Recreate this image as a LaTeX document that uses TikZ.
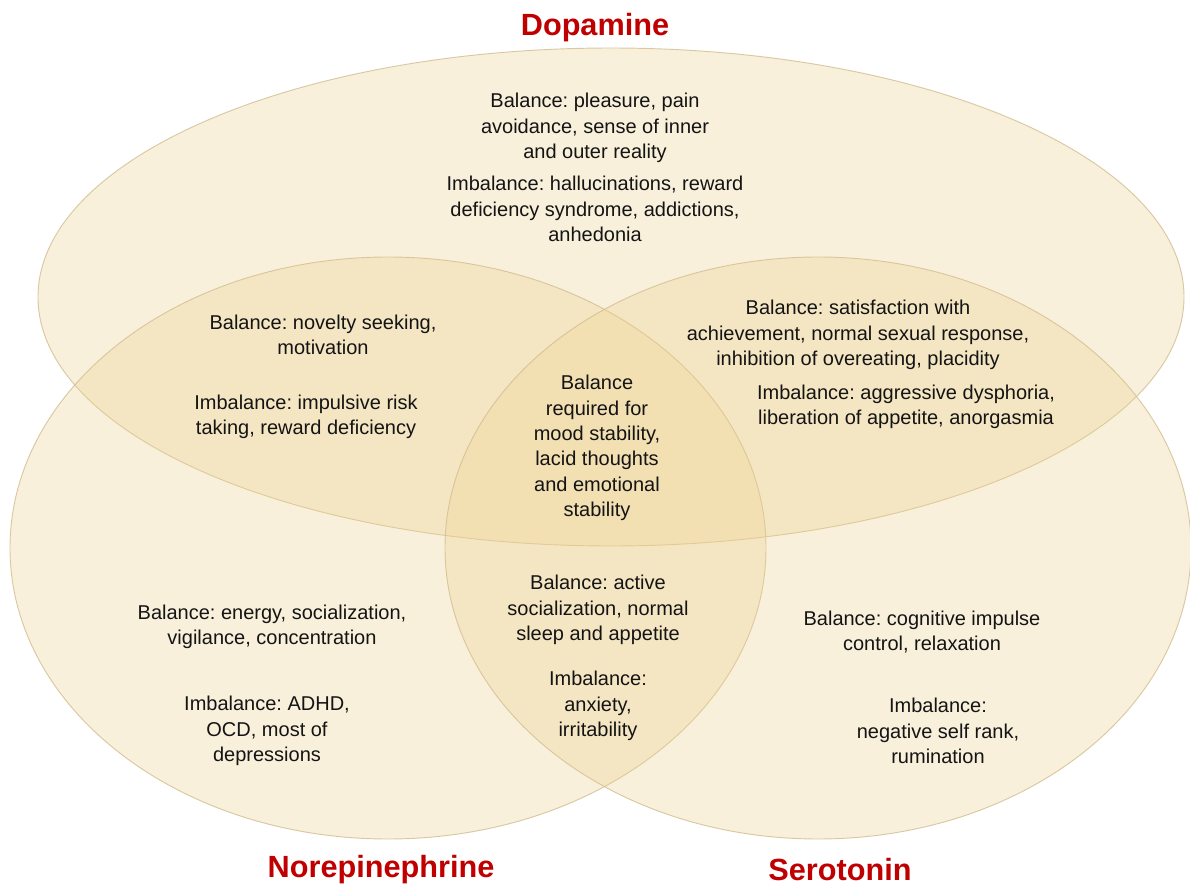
\documentclass[tikz,border=0pt]{standalone}
\usepackage{fontspec}
\setmainfont{Liberation Sans}
\usetikzlibrary{shapes.geometric}
\definecolor{parch}{RGB}{236,208,140}
\definecolor{rim}{RGB}{212,192,148}
\definecolor{titlered}{RGB}{192,0,0}
\definecolor{txt}{RGB}{20,20,20}
\tikzset{
  venn/.style={fill=parch, fill opacity=0.3, draw=rim, draw opacity=0.85, line width=0.7pt},
  lbl/.style={align=center, text=txt, font=\frenchspacing\fontsize{15}{19}\selectfont, inner sep=0pt},
  ttl/.style={text=titlered, font=\fontsize{23}{27}\selectfont\bfseries, inner sep=0pt}
}
\begin{document}
\frenchspacing
\begin{tikzpicture}[x=0.75pt,y=-0.75pt]
\useasboundingbox (0,0) rectangle (1190,888);
\fill[white] (0,0) rectangle (1190,888);
% circles
\draw[venn] (611,297) ellipse [x radius=573, y radius=249];
\draw[venn] (388,548) ellipse [x radius=378, y radius=291];
\draw[venn] (818,548) ellipse [x radius=373, y radius=291];
\coordinate (dop) at (611,297);
\coordinate (nor) at (388,548);
\coordinate (ser) at (818,548);
% titles
\node[ttl] (tdop) at (595,28) {Dopamine};
\node[ttl] (tnor) at (381,870) {Norepinephrine};
\node[ttl] (tser) at (840,870) {Serotonin};
% dopamine only
\node[lbl] (d1) at (595,128) {Balance: pleasure, pain\\avoidance, sense of inner\\and outer reality};
\node[lbl] (d2) at (595,209) {Imbalance: hallucinations, reward\\deficiency syndrome, addictions,\\anhedonia};
% dopamine + norepinephrine
\node[lbl] (dn1) at (323,335) {Balance: novelty seeking,\\motivation};
\node[lbl] (dn2) at (306,417) {Imbalance: impulsive risk\\taking, reward deficiency};
% center
\node[lbl] (c) at (597,448) {Balance\\required for\\mood stability,\\lacid thoughts\\and emotional\\stability};
% dopamine + serotonin
\node[lbl] (ds1) at (858,335) {Balance: satisfaction with\\achievement, normal sexual response,\\inhibition of overeating, placidity};
\node[lbl] (ds2) at (906,407) {Imbalance: aggressive dysphoria,\\liberation of appetite, anorgasmia};
% norepinephrine + serotonin
\node[lbl] (ns1) at (598,610) {Balance: active\\socialization, normal\\sleep and appetite};
\node[lbl] (ns2) at (598,706) {Imbalance:\\anxiety,\\irritability};
% norepinephrine only
\node[lbl] (n1) at (272,627) {Balance: energy, socialization,\\vigilance, concentration};
\node[lbl] (n2) at (267,731) {Imbalance: ADHD,\\OCD, most of\\depressions};
% serotonin only
\node[lbl] (s1) at (922,632) {Balance: cognitive impulse\\control, relaxation};
\node[lbl] (s2) at (938,731) {Imbalance:\\negative self rank,\\rumination};
\end{tikzpicture}
\end{document}
